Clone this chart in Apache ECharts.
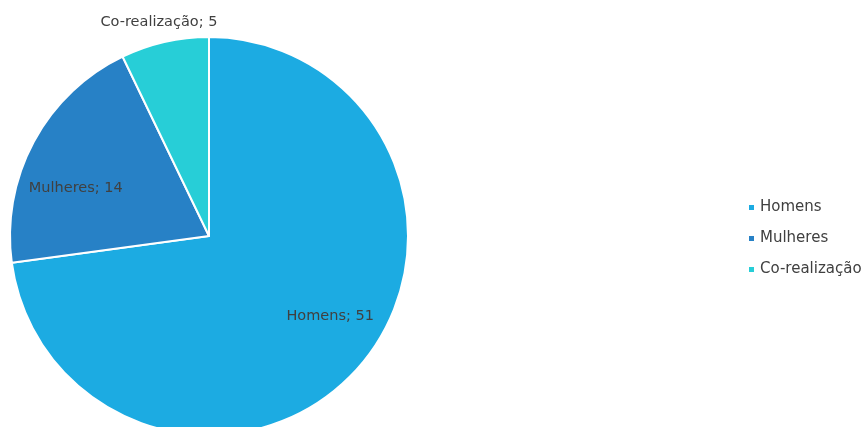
<!DOCTYPE html>
<html><head><meta charset="utf-8">
<script src="https://cdn.jsdelivr.net/npm/echarts@6/dist/echarts.min.js"></script>
<style>html,body{margin:0;padding:0;background:#fff}#c{width:866px;height:427px}</style>
</head><body><div id="c"></div>
<script>
const categories = ['Homens', 'Mulheres', 'Co-realização'];
const values = [51, 14, 5];
const colors = ['#1cabe2', '#2781c6', '#27ced7'];

const chart = echarts.init(document.getElementById('c'));
const font = '"DejaVu Sans", sans-serif';
chart.setOption({
  animation: false,
  legend: {
    orient: 'vertical', left: 742, top: 195,
    icon: 'rect', itemWidth: 7, itemHeight: 7, itemGap: 16,
    textStyle: { color: '#404040', fontSize: 15, fontFamily: font },
    data: categories
  },
  series: [{
    type: 'pie', center: [209, 236], radius: 199, startAngle: 90, clockwise: true,
    itemStyle: { borderColor: '#fff', borderWidth: 2 },
    label: { show: true, position: 'inside', formatter: '{b}; {c}', color: '#404040', fontSize: 14.5, fontFamily: font },
    labelLine: { show: false },
    labelLayout: function (p) {
      if (p.dataIndex === 0) return { dx: 44, dy: 13 };
      if (p.dataIndex === 1) return { dx: -43, dy: 1 };
      return { dx: 54, dy: -14 };
    },
    data: categories.map((n, i) => ({
      name: n, value: values[i], itemStyle: { color: colors[i] },
      label: i === 2 ? { position: 'outside', distanceToLabelLine: 0 } : undefined,
      labelLine: i === 2 ? { show: false, length: 6, length2: 0 } : undefined
    }))
  }]
});
</script></body></html>
